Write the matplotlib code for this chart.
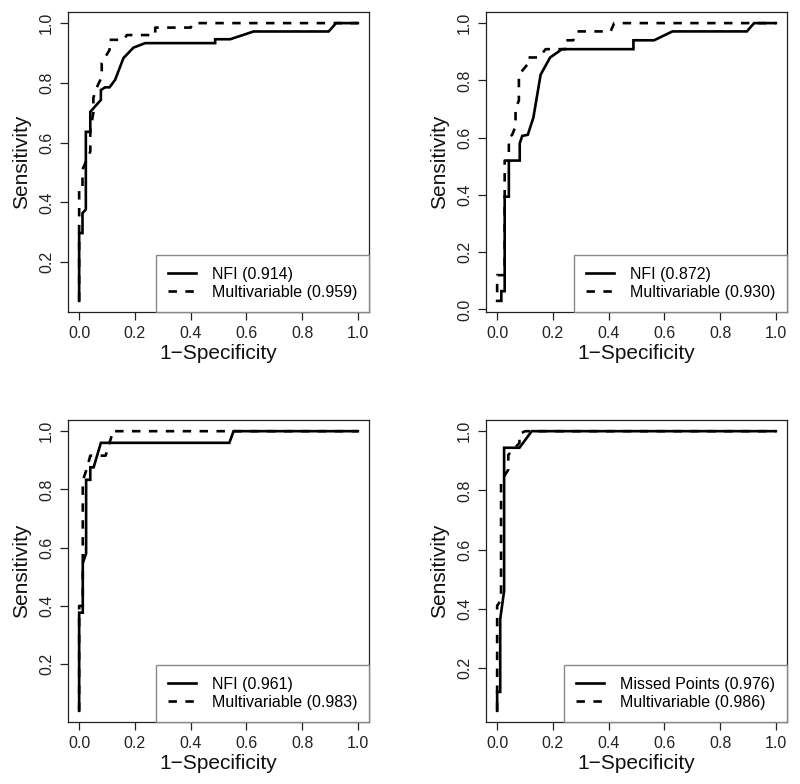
import matplotlib
matplotlib.use("Agg")
import matplotlib.pyplot as plt

plt.rcParams['font.family'] = ['Liberation Sans', 'DejaVu Sans']

# ---- data (1-specificity, sensitivity) ----
p1_nfi_x = [0, 0, 0.012, 0.012, 0.024, 0.024, 0.04, 0.04, 0.078, 0.078, 0.093, 0.109, 0.129, 0.159, 0.195, 0.237, 0.488, 0.488, 0.542, 0.626, 0.895, 0.922, 1.0]
p1_nfi_y = [0.07, 0.297, 0.297, 0.364, 0.376, 0.636, 0.636, 0.703, 0.743, 0.776, 0.785, 0.785, 0.81, 0.883, 0.918, 0.933, 0.933, 0.946, 0.946, 0.972, 0.972, 1.0, 1.0]
p1_mv_x = [0, 0, 0.012, 0.012, 0.04, 0.04, 0.051, 0.051, 0.066, 0.081, 0.081, 0.109, 0.109, 0.16, 0.171, 0.273, 0.273, 0.40, 0.41, 1.0]
p1_mv_y = [0.07, 0.45, 0.45, 0.51, 0.57, 0.64, 0.70, 0.75, 0.79, 0.82, 0.866, 0.91, 0.944, 0.944, 0.96, 0.96, 0.985, 0.985, 1.0, 1.0]

p2_nfi_x = [0, 0.015, 0.015, 0.027, 0.027, 0.042, 0.042, 0.081, 0.081, 0.09, 0.11, 0.13, 0.156, 0.19, 0.233, 0.489, 0.489, 0.563, 0.629, 0.896, 0.922, 1.0]
p2_nfi_y = [0.03, 0.03, 0.064, 0.064, 0.394, 0.394, 0.52, 0.52, 0.58, 0.606, 0.61, 0.67, 0.82, 0.88, 0.909, 0.909, 0.94, 0.94, 0.971, 0.971, 1.0, 1.0]
p2_mv_x = [0, 0, 0.027, 0.027, 0.042, 0.042, 0.054, 0.066, 0.066, 0.078, 0.078, 0.11, 0.11, 0.15, 0.174, 0.245, 0.245, 0.273, 0.287, 0.407, 0.42, 1.0]
p2_mv_y = [0.06, 0.12, 0.12, 0.52, 0.52, 0.60, 0.61, 0.64, 0.70, 0.73, 0.82, 0.857, 0.88, 0.88, 0.909, 0.909, 0.94, 0.94, 0.971, 0.971, 1.0, 1.0]

p3_nfi_x = [0, 0, 0.013, 0.013, 0.025, 0.025, 0.04, 0.04, 0.052, 0.078, 0.539, 0.554, 1.0]
p3_nfi_y = [0.04, 0.377, 0.377, 0.547, 0.58, 0.833, 0.833, 0.876, 0.876, 0.96, 0.96, 1.0, 1.0]
p3_mv_x = [0, 0, 0.013, 0.013, 0.027, 0.04, 0.095, 0.117, 0.117, 1.0]
p3_mv_y = [0.04, 0.40, 0.40, 0.83, 0.87, 0.916, 0.916, 0.985, 1.0, 1.0]

p4_mp_x = [0, 0, 0.011, 0.011, 0.025, 0.025, 0.08, 0.124, 1.0]
p4_mp_y = [0.055, 0.119, 0.119, 0.365, 0.46, 0.944, 0.944, 1.0, 1.0]
p4_mv_x = [0, 0, 0.014, 0.014, 0.04, 0.04, 0.08, 0.08, 0.1, 1.0]
p4_mv_y = [0.055, 0.41, 0.43, 0.83, 0.87, 0.92, 0.96, 0.99, 1.0, 1.0]

labels1 = ["NFI (0.914)", "Multivariable (0.959)"]
labels2 = ["NFI (0.872)", "Multivariable (0.930)"]
labels3 = ["NFI (0.961)", "Multivariable (0.983)"]
labels4 = ["Missed Points (0.976)", "Multivariable (0.986)"]

xticks = [0.0, 0.2, 0.4, 0.6, 0.8, 1.0]
yticks = [0.0, 0.2, 0.4, 0.6, 0.8, 1.0]

W, H = 800, 784
fig = plt.figure(figsize=(W / 100, H / 100), dpi=100)

boxes = [(68, 12, 369, 312), (486, 12, 787, 312), (68, 420, 369, 722), (486, 420, 787, 722)]
panels = [
    (p1_nfi_x, p1_nfi_y, p1_mv_x, p1_mv_y, labels1),
    (p2_nfi_x, p2_nfi_y, p2_mv_x, p2_mv_y, labels2),
    (p3_nfi_x, p3_nfi_y, p3_mv_x, p3_mv_y, labels3),
    (p4_mp_x, p4_mp_y, p4_mv_x, p4_mv_y, labels4),
]

axcol = '#222222'
for (l, t, r, b), (sx, sy, dx, dy, labs) in zip(boxes, panels):
    ax = fig.add_axes([l / W, 1 - b / H, (r - l) / W, (b - t) / H])
    ax.plot(sx, sy, color='black', lw=1.9, solid_joinstyle='miter', label=labs[0])
    ax.plot(dx, dy, color='black', lw=1.9, dashes=(3.2, 3.2), label=labs[1])
    ymin = min(min(sy), min(dy))
    rng = 1.0 - ymin
    ax.set_xlim(-0.04, 1.04)
    ax.set_ylim(ymin - 0.04 * rng, 1.0 + 0.04 * rng)
    ax.set_xticks(xticks)
    ax.set_xticklabels([f"{v:.1f}" for v in xticks])
    yt = [v for v in yticks if v >= ymin - 0.04 * rng]
    ax.set_yticks(yt)
    ax.set_yticklabels([f"{v:.1f}" for v in yt], rotation=90, va='center')
    ax.tick_params(axis='both', length=6, width=0.9, color=axcol, labelsize=11.5,
                   labelcolor='#222222', pad=4)
    for s in ax.spines.values():
        s.set_color(axcol)
        s.set_linewidth(0.9)
    ax.set_xlabel("1\u2212Specificity", fontsize=15, labelpad=2, color='#111111')
    ax.set_ylabel("Sensitivity", fontsize=15, labelpad=6, color='#111111')
    leg = ax.legend(loc='lower right', borderaxespad=0, fontsize=11.5, frameon=True,
                    fancybox=False, edgecolor='#888888', framealpha=1,
                    handlelength=1.75, handletextpad=1.0, borderpad=0.75,
                    labelspacing=0.2)
    leg.get_frame().set_linewidth(1.0)

fig.savefig("out.png", dpi=100)
